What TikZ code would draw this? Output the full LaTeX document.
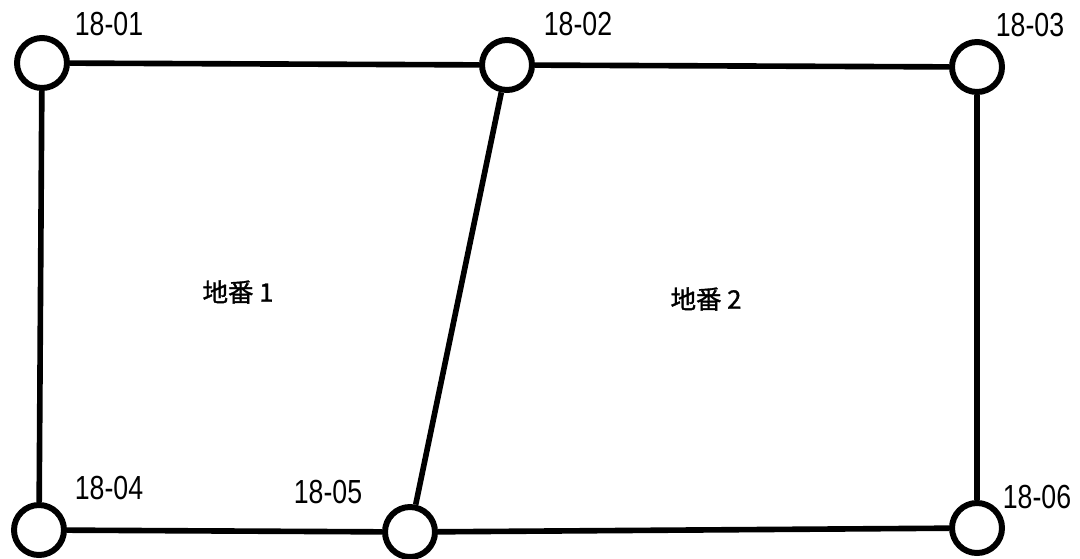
\documentclass[tikz,border=0pt]{standalone}
\usepackage{fontspec}
\setmainfont{Liberation Sans}
\newfontfamily\numfont[FakeStretch=0.8]{Liberation Sans}
\newfontfamily\cjk[BoldFont={Noto Sans CJK JP}, BoldFeatures={FakeBold=1.3}]{Noto Sans CJK JP}
\usetikzlibrary{positioning}

\begin{document}
\begin{tikzpicture}[
    point/.style={circle, draw, line width=3.4pt, fill=white, minimum size=1cm, inner sep=0pt},
    boundary/.style={draw, line width=3.2pt},
    pointlabel/.style={inner sep=0pt, font=\numfont\fontsize{19}{21}\selectfont},
    lotlabel/.style={inner sep=0pt, font=\cjk\bfseries\fontsize{14.5}{16}\selectfont}
]
\useasboundingbox (0,0) rectangle (21.6,11.16);

% Boundary points
\node[point] (P1) at (0.84, 9.90) {};
\node[point] (P2) at (10.14, 9.86) {};
\node[point] (P3) at (19.54, 9.82) {};
\node[point] (P4) at (0.78, 0.56) {};
\node[point] (P5) at (8.20, 0.52) {};
\node[point] (P6) at (19.54, 0.60) {};

% Point names
\node[pointlabel] (L1) at (2.18, 10.68) {18-01};
\node[pointlabel] (L2) at (11.56, 10.68) {18-02};
\node[pointlabel] (L3) at (20.60, 10.66) {18-03};
\node[pointlabel] (L4) at (2.18, 1.40) {18-04};
\node[pointlabel] (L5) at (6.56, 1.32) {18-05};
\node[pointlabel] (L6) at (20.74, 1.22) {18-06};

% Lot names
\node[lotlabel] (lot1) at (4.76, 5.32) {地番 1};
\node[lotlabel] (lot2) at (14.12, 5.18) {地番 2};

% Draw boundaries
\draw[boundary] (P1) -- (P2);
\draw[boundary] (P2) -- (P3);
\draw[boundary] (P1) -- (P4);
\draw[boundary] (P3) -- (P6);
\draw[boundary] (P4) -- (P5);
\draw[boundary] (P5) -- (P6);
\draw[boundary] (P2) -- (P5);

\end{tikzpicture}
\end{document}
